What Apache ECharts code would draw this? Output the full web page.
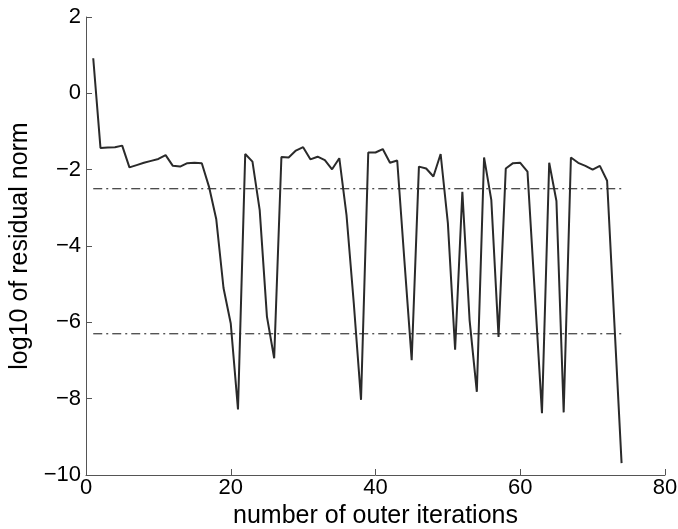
<!DOCTYPE html>
<html>
<head>
<meta charset="utf-8">
<script src="https://cdn.jsdelivr.net/npm/echarts@6/dist/echarts.min.js"></script>
<style>
  html, body { margin: 0; padding: 0; background: #fff; }
  #chart { width: 678px; height: 529px; }
</style>
</head>
<body>
<div id="chart"></div>
<script>
// iteration numbers 1..74
var iterations = [
  1, 2, 3, 4, 5, 6, 7, 8, 9, 10, 11, 12, 13, 14, 15, 16, 17, 18, 19, 20,
  21, 22, 23, 24, 25, 26, 27, 28, 29, 30, 31, 32, 33, 34, 35, 36, 37, 38, 39, 40,
  41, 42, 43, 44, 45, 46, 47, 48, 49, 50, 51, 52, 53, 54, 55, 56, 57, 58, 59, 60,
  61, 62, 63, 64, 65, 66, 67, 68, 69, 70, 71, 72, 73, 74
];
// log10 of residual norm
var residual = [
  0.92, -1.43, -1.42, -1.41, -1.37, -1.94, -1.88, -1.82, -1.77, -1.72,
  -1.62, -1.90, -1.92, -1.83, -1.82, -1.83, -2.45, -3.30, -5.10, -6.03,
  -8.28, -1.59, -1.79, -3.06, -5.85, -6.94, -1.67, -1.68, -1.50, -1.41,
  -1.73, -1.66, -1.75, -1.99, -1.70, -3.20, -5.50, -8.03, -1.55, -1.55,
  -1.46, -1.82, -1.76, -4.40, -6.99, -1.92, -1.97, -2.18, -1.59, -3.40,
  -6.72, -2.58, -5.94, -7.82, -1.68, -2.79, -6.38, -1.97, -1.83, -1.82,
  -2.05, -5.20, -8.38, -1.82, -2.82, -8.36, -1.68, -1.82, -1.90, -2.00,
  -1.90, -2.29, -6.00, -9.69
];
// the two dash-dot threshold levels
var upperLevel = -2.5;
var lowerLevel = -6.3;
var xTicks = [0, 20, 40, 60, 80];
var yTicks = [-10, -8, -6, -4, -2, 0, 2];

var chart = echarts.init(document.getElementById('chart'));

var font = 'Liberation Sans, Arial, Helvetica, sans-serif';
var axisColor = '#555';

function pairs(xs, ys) {
  var out = [];
  for (var i = 0; i < xs.length; i++) out.push([xs[i], ys[i]]);
  return out;
}
function levelLine(v) {
  var first = iterations[0], last = iterations[iterations.length - 1];
  return [[first, v], [last, v]];
}
function minus(v) { return String(v).replace('-', '\u2212'); }

var option = {
  backgroundColor: '#fff',
  animation: false,
  grid: { left: 86, right: 13, top: 17, bottom: 54, containLabel: false, outerBoundsMode: 'none' },
  xAxis: {
    type: 'value',
    min: xTicks[0], max: xTicks[xTicks.length - 1], interval: 20,
    name: 'number of outer iterations',
    nameLocation: 'middle',
    nameGap: 26,
    nameTextStyle: { fontFamily: font, fontSize: 25, color: '#000' },
    axisLine: { show: true, onZero: false, lineStyle: { color: axisColor, width: 1 } },
    axisTick: { show: true, inside: true, length: 6, lineStyle: { color: axisColor } },
    axisLabel: { fontFamily: font, fontSize: 22, color: '#000', margin: 2, formatter: minus },
    splitLine: { show: false }
  },
  yAxis: {
    type: 'value',
    min: yTicks[0], max: yTicks[yTicks.length - 1], interval: 2,
    name: 'log10 of residual norm',
    nameLocation: 'middle',
    nameGap: 52,
    nameTextStyle: { fontFamily: font, fontSize: 25, color: '#000' },
    axisLine: { show: true, onZero: false, lineStyle: { color: axisColor, width: 1 } },
    axisTick: { show: true, inside: true, length: 6, lineStyle: { color: axisColor } },
    axisLabel: { fontFamily: font, fontSize: 22, color: '#000', margin: 5, formatter: minus },
    splitLine: { show: false }
  },
  series: [
    {
      type: 'line',
      data: levelLine(upperLevel),
      symbol: 'none',
      lineStyle: { color: '#111', width: 1, type: [9, 4, 2, 4] },
      z: 1
    },
    {
      type: 'line',
      data: levelLine(lowerLevel),
      symbol: 'none',
      lineStyle: { color: '#111', width: 1, type: [9, 4, 2, 4] },
      z: 1
    },
    {
      type: 'line',
      data: pairs(iterations, residual),
      symbol: 'none',
      lineStyle: { color: '#2a2a2a', width: 2 },
      z: 2
    }
  ]
};

chart.setOption(option);
</script>
</body>
</html>
